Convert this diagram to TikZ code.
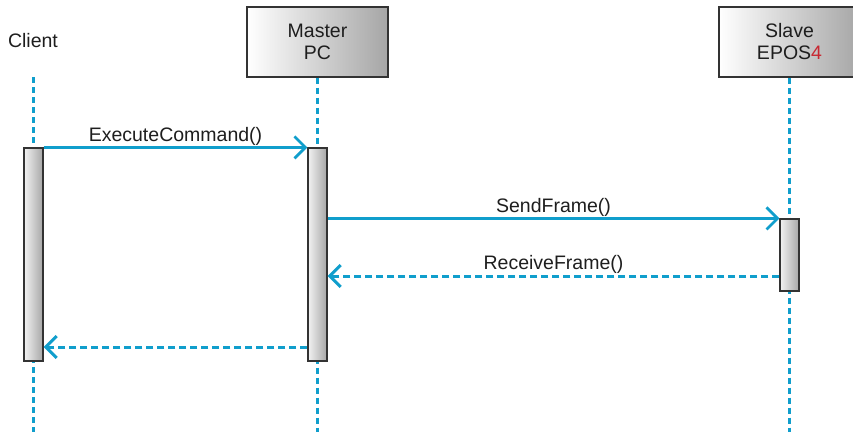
\documentclass[tikz,border=0pt]{standalone}
\usepackage{fontspec}
\setmainfont{Liberation Sans}
\usetikzlibrary{arrows.meta}
\definecolor{seqblue}{RGB}{16,158,204}
\definecolor{eposred}{RGB}{200,40,50}
\definecolor{txt}{RGB}{30,30,30}
\tikzset{
  participant/.style={draw=black!80, line width=1.2pt, left color=white, right color=black!35,
    minimum width=141pt, minimum height=70pt, inner sep=0pt, align=center, text=txt,
    font=\fontsize{19.5}{22}\selectfont},
  actbar/.style={draw=black!80, line width=1.2pt, left color=black!5, right color=black!35,
    minimum width=19pt, inner sep=0pt},
  lifeline/.style={seqblue, line width=3pt, dash pattern=on 6pt off 4pt},
  msg/.style={seqblue, line width=2.7pt, -{Straight Barb[length=11pt,width=22pt]}},
  reply/.style={seqblue, line width=3pt, dash pattern=on 7pt off 4pt, -{Straight Barb[length=11pt,width=22pt]}},
  msglabel/.style={font=\fontsize{19.5}{22}\selectfont, text=txt, inner sep=1pt, anchor=south}
}
\begin{document}
\begin{tikzpicture}[x=1pt,y=-1pt]
\useasboundingbox (0,0) rectangle (853,432);
% participants
\node[font=\fontsize{19.5}{22}\selectfont, text=txt] (client) at (33,41) {Client};
\node[participant] (master) at (317.5,42) {Master\\PC};
\node[participant] (slave) at (789.5,42) {Slave\\EPOS\textcolor{eposred}{4}};
% lifeline ends
\coordinate (cl0) at (33.5,77);
\coordinate (cl1) at (33.5,432);
\coordinate (ml1) at (317.5,432);
\coordinate (sl1) at (789.5,432);
\draw[lifeline] (cl0) -- (cl1);
\draw[lifeline] (master.south) -- (ml1);
\draw[lifeline] (slave.south) -- (sl1);
% activation bars
\node[actbar, minimum height=213pt] (cbar) at (33.5,254.5) {};
\node[actbar, minimum height=213pt] (mbar) at (317.5,254.5) {};
\node[actbar, minimum height=72pt] (sbar) at (789.5,255) {};
% messages
\draw[msg] (cbar.north east) -- node[msglabel] {ExecuteCommand()} (mbar.north west);
\draw[msg] (mbar.east |- sbar.north) -- node[msglabel] {SendFrame()} (sbar.north west);
\coordinate (ry) at (0,276);
\coordinate (ty) at (0,347);
\draw[reply] (sbar.west |- ry) -- node[msglabel] {ReceiveFrame()} (mbar.east |- ry);
\draw[reply] (mbar.west |- ty) -- (cbar.east |- ty);
\end{tikzpicture}
\end{document}
